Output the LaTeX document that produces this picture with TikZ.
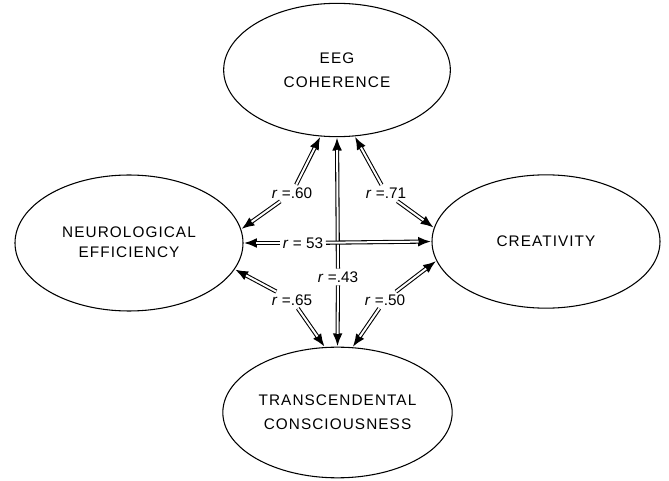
\documentclass[tikz,border=0pt]{standalone}
\usepackage{fontspec}
\setmainfont{Liberation Sans}
\usetikzlibrary{shapes.geometric,arrows.meta}

\begin{document}
\begin{tikzpicture}[x=0.75pt,y=-0.75pt,
  construct/.style={draw, ellipse, line width=0.8pt, inner sep=0pt, align=center,
    font=\fontsize{11.5}{18}\selectfont\addfontfeatures{LetterSpace=7}},
  corr/.style={inner sep=2pt, font=\fontsize{11.5}{14}\selectfont},
  % a hollow double stroke ending in a solid head
  link/.style={line width=3.1pt, -{Latex[length=10pt,width=7.5pt]},
    postaction={draw=white, line width=1.5pt, -, shorten >=9.6pt}}
]
\useasboundingbox (0,0) rectangle (669,481);

% the four constructs
\node[construct, minimum width=170pt, minimum height=100pt] (eeg) at (337,70) {EEG\\COHERENCE};
\node[construct, minimum width=171pt, minimum height=102pt,
      font=\fontsize{11.5}{15.5}\selectfont\addfontfeatures{LetterSpace=7}] (neuro) at (129,243)
      {\raisebox{-3.5pt}{\begin{tabular}{@{}c@{}}NEUROLOGICAL\\[-0.5pt]EFFICIENCY\end{tabular}}};
\node[construct, minimum width=171pt, minimum height=100pt] (crea) at (546,241.5) {CREATIVITY};
\node[construct, minimum width=172pt, minimum height=98pt] (tc) at (337.5,412.5) {TRANSCENDENTAL\\CONSCIOUSNESS};

% correlation labels
\node[corr] (l60) at (292,193) {\textit{r} =.60};
\node[corr] (l71) at (386,193) {\textit{r} =.71};
\node[corr] (l53) at (303,243) {\textit{r} = 53};
\node[corr] (l43) at (338,277) {\textit{r} =.43};
\node[corr] (l65) at (292,300) {\textit{r} =.65};
\node[corr] (l50) at (385,300) {\textit{r} =.50};

% vertical link
\draw[link] (l43) -- (eeg.south);
\draw[link] (l43) -- (tc.north);

% diagonal links
\draw[link] (l60) -- (eeg.256);
\draw[link] (l60) -- (neuro.7);
\draw[link] (l71) -- (eeg.285);
\draw[link] (l71) -- (crea.173);
\draw[link] (l65) -- (neuro.-14);
\draw[link] (l65) -- (tc.101);
\draw[link] (l50) -- (crea.190);
\draw[link] (l50) -- (tc.77);

% horizontal link
\draw[link] (l53) -- (neuro.east);
\draw[link] (l53) -- (crea.west);
\end{tikzpicture}
\end{document}
